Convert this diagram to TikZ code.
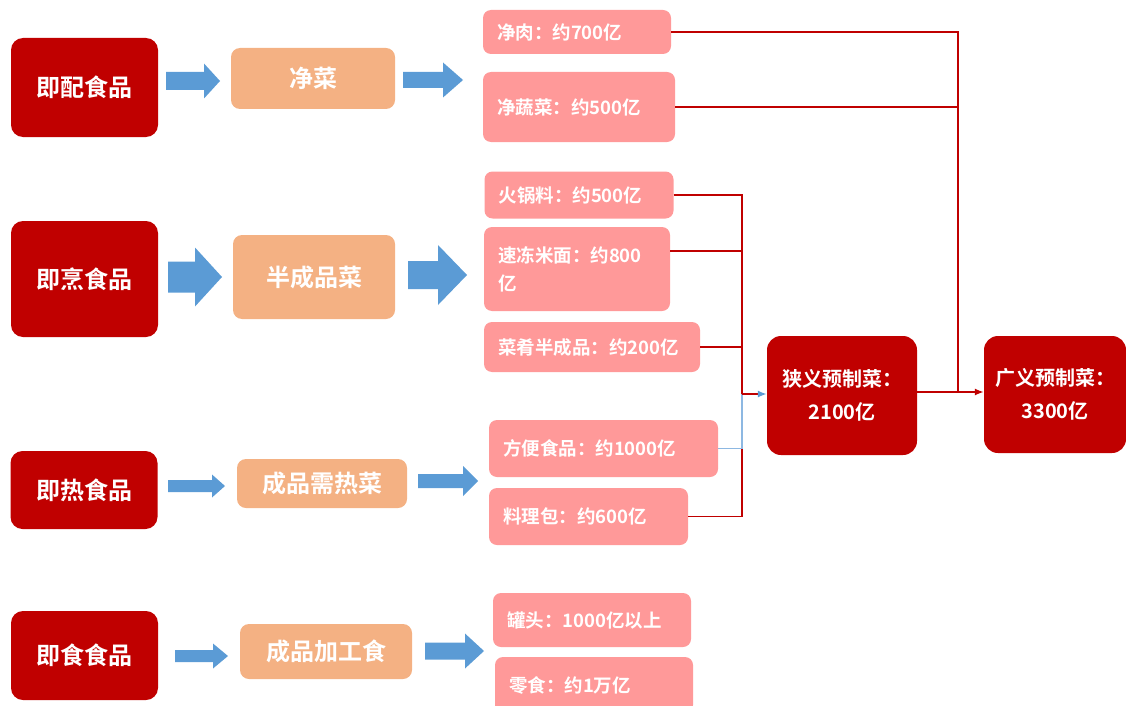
\documentclass[tikz,border=0pt]{standalone}
\usepackage{fontspec}
\setmainfont{Noto Sans CJK SC}[BoldFont={Noto Sans CJK SC Bold}]
\usetikzlibrary{arrows.meta}
\definecolor{darkred}{HTML}{C00000}
\definecolor{peach}{HTML}{F4B183}
\definecolor{rose}{HTML}{FF9999}
\definecolor{arrowblue}{HTML}{5B9BD5}
\definecolor{lineblue}{HTML}{8DB8E2}
\newcommand{\fatarrow}[6]{\fill[arrowblue] (#1,#3-#4) -- (#6,#3-#4) -- (#6,#3-#5) -- (#2,#3) -- (#6,#3+#5) -- (#6,#3+#4) -- (#1,#3+#4) -- cycle;}

\begin{document}
\begin{tikzpicture}[x=1pt, y=-1pt, >={Latex[length=9pt,width=7pt]},
    food/.style={fill=darkred, rounded corners=12pt, text=white, font=\bfseries\fontsize{24}{28}\selectfont, minimum width=147pt, inner sep=0pt},
    dish/.style={fill=peach, rounded corners=9pt, text=white, font=\bfseries\fontsize{24}{28}\selectfont, inner sep=0pt},
    item/.style={fill=rose, rounded corners=8pt, text=white, font=\bfseries\fontsize{18.5}{28}\selectfont, align=left, inner xsep=14pt, inner ysep=0pt},
    total/.style={fill=darkred, rounded corners=14pt, text=white, font=\bfseries\fontsize{20}{33}\selectfont, align=center, inner sep=0pt},
    redline/.style={draw=darkred, line width=1.5pt},
    blueline/.style={draw=lineblue, line width=1.6pt}]
    \useasboundingbox (0,0) rectangle (1126,706);

    \node (jipei) [food, minimum height=99pt] at (84.5,87.5) {即配食品};
    \node (jipeng) [food, minimum height=116pt] at (84.5,279) {即烹食品};
    \node (jire) [food, minimum height=78pt] at (84,490) {即热食品};
    \node (jishi) [food, minimum height=89pt] at (84.5,655.5) {即食食品};

    \node (jingcai) [dish, minimum width=164pt, minimum height=61pt] at (313,78.5) {净菜};
    \node (banchengpin) [dish, minimum width=162pt, minimum height=84pt] at (314,277) {半成品菜};
    \node (xureicai) [dish, minimum width=170pt, minimum height=49pt] at (322,483.5) {成品需热菜};
    \node (jiagongshi) [dish, minimum width=172pt, minimum height=55pt] at (326,651.5) {成品加工食};

    \node (jingrou) [item, text width=160pt, minimum height=44pt] at (577,32) {净肉：约700亿};
    \node (jingshucai) [item, text width=164pt, minimum height=70pt] at (579,107) {净蔬菜：约500亿};
    \node (huoguoliao) [item, text width=161pt, minimum height=47pt] at (579,195) {火锅料：约500亿};
    \node (sudong) [item, text width=158pt, minimum height=84pt] at (577,269) {速冻米面：约800\\亿};
    \node (caiyao) [item, text width=188pt, minimum height=50pt] at (592,347) {菜肴半成品：约200亿};
    \node (fangbian) [item, text width=201pt, minimum height=57pt] at (603.5,448.5) {方便食品：约1000亿};
    \node (liaolibao) [item, text width=171pt, minimum height=57pt] at (588.5,516.5) {料理包：约600亿};
    \node (guantou) [item, text width=170pt, minimum height=54pt] at (592,620) {罐头：1000亿以上};
    \node (lingshi) [item, text width=170pt, minimum height=56pt] at (594,685) {零食：约1万亿};

    \node (xiayi) [total, minimum width=150pt, minimum height=119pt] at (842,395.5) {狭义预制菜：\\2100亿};
    \node (guangyi) [total, minimum width=142pt, minimum height=117pt] at (1055,394.5) {广义预制菜：\\3300亿};

    \fatarrow{166}{220}{81}{9}{17.5}{204}
    \fatarrow{403}{463}{80}{8}{17.5}{443}
    \fatarrow{168}{222}{277}{15.5}{29.5}{195}
    \fatarrow{408}{467}{275}{14}{30}{438}
    \fatarrow{168}{225}{486}{6}{11.5}{212}
    \fatarrow{418}{478}{481}{7}{15}{463}
    \fatarrow{175}{228}{656}{6}{12.5}{213}
    \fatarrow{425}{484}{651}{8.5}{17.5}{465}

    \coordinate (narrow) at (742,394);
    \coordinate (broad) at (958,392);

    \draw[redline] (jingrou.east) -| (broad);
    \draw[redline] (jingshucai.east) -- (jingshucai.east -| broad);
    \draw[redline] (huoguoliao.east) -| (narrow);
    \draw[redline] ([yshift=18pt]sudong.east) -- ([yshift=18pt]sudong.east -| narrow);
    \draw[redline] (caiyao.east) -- (caiyao.east -| narrow);
    \draw[redline] (liaolibao.east) -| (narrow);
    \draw[blueline] (fangbian.east) -| (narrow);
    \draw[redline, -{Latex[length=9pt,width=7pt,color=arrowblue]}] (narrow) -- (narrow -| xiayi.west);
    \draw[redline, ->] (xiayi.east |- broad) -- (broad -| guangyi.west);
\end{tikzpicture}
\end{document}
